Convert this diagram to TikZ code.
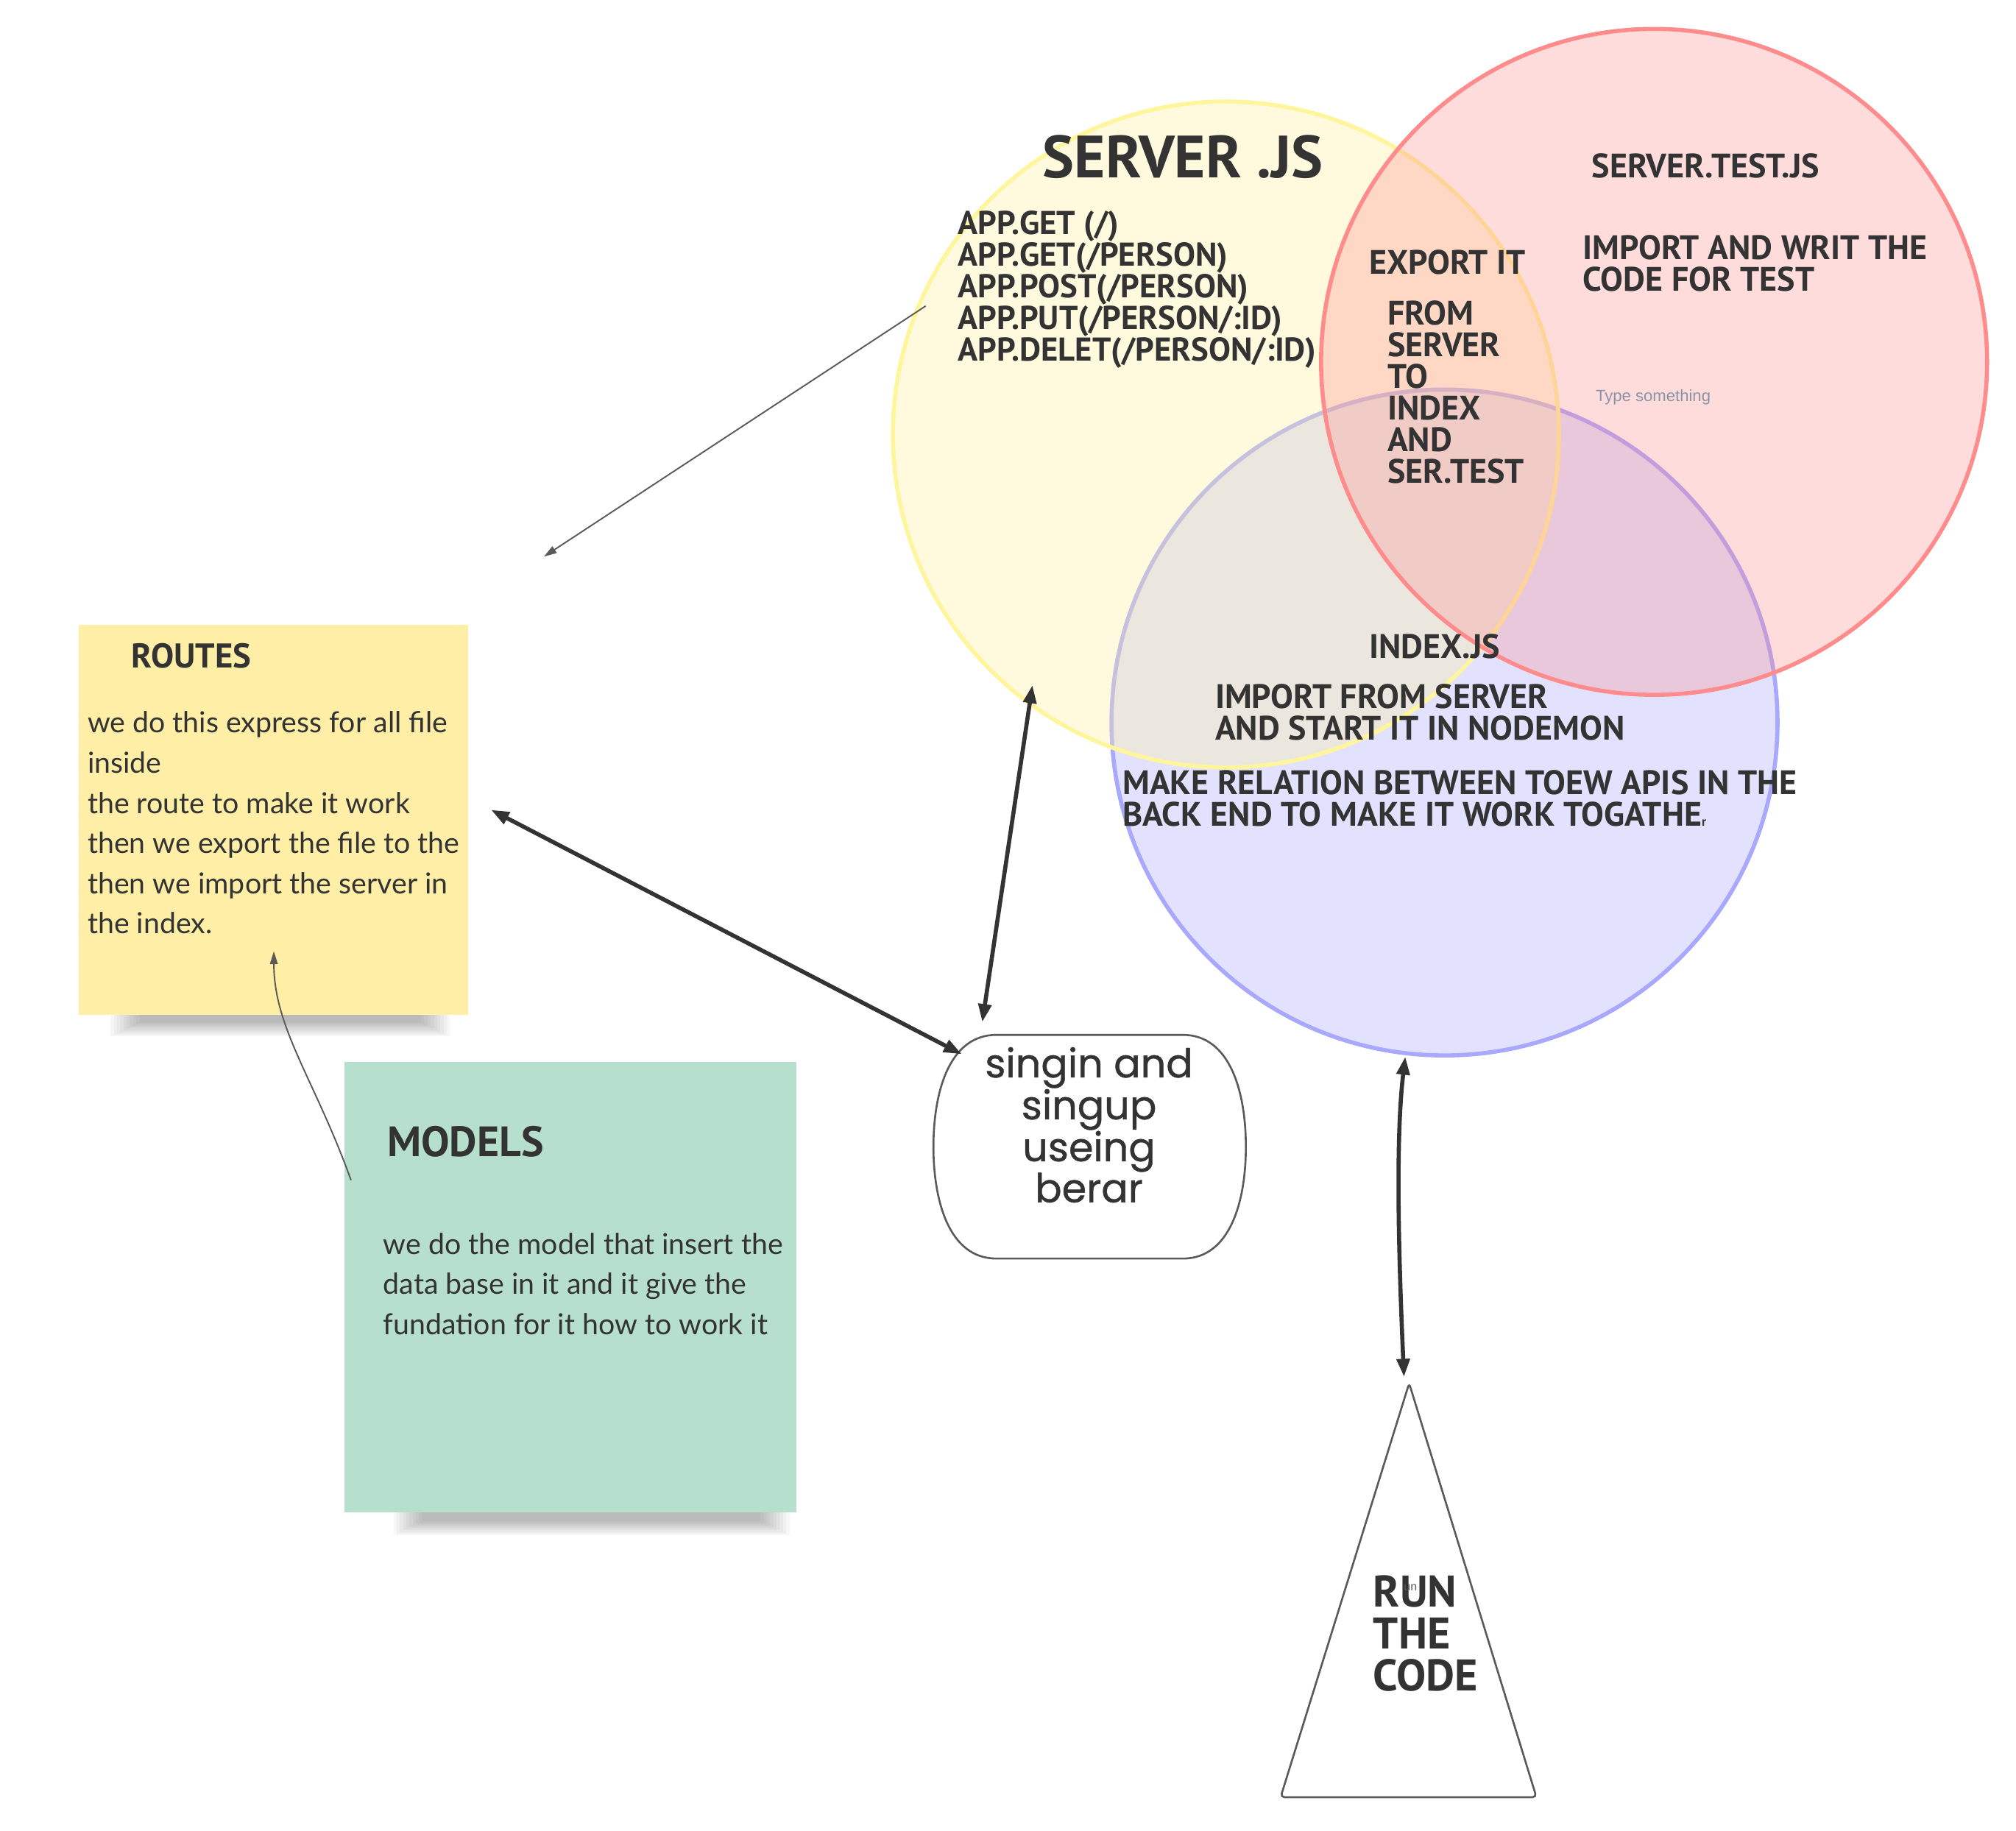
\documentclass[tikz,border=0pt]{standalone}
\usepackage{fontspec}
\setmainfont{Lato}
\newfontfamily\comic{PT Sans}
\newfontfamily\wideface{PT Sans}
\newfontfamily\hand{Lato}
\newfontfamily\geo[FakeBold=0.8]{Poppins}
\newfontfamily\uiface{Liberation Sans}
\usetikzlibrary{arrows.meta}
\newcommand\setfs[2]{\fontsize{#1}{#2}\selectfont}
\definecolor{ink}{HTML}{333333}
\definecolor{thin}{HTML}{5A5A5A}
\definecolor{ylwline}{HTML}{FFF59D}
\definecolor{ylwfill}{HTML}{FFF0A0}
\definecolor{redline}{HTML}{FF8C8C}
\definecolor{redfill}{HTML}{FF8C8C}
\definecolor{blueline}{HTML}{A8A8FF}
\definecolor{bluefill}{HTML}{A0A0FF}
\definecolor{routesfill}{HTML}{FFEEA6}
\definecolor{modelsfill}{HTML}{B7DFCE}
\definecolor{typegray}{HTML}{8A94A6}
\begin{document}
\begin{tikzpicture}[x=0.5mm,y=-0.5mm,
  venn/.style={circle, minimum size=259mm, inner sep=0, line width=1.6mm},
  caps/.style={font={\comic\bfseries\setfs{37.5}{35}}, text=ink, inner sep=0, anchor=west, align=left},
  handtxt/.style={font={\hand\setfs{32}{44.4}}, text=ink, inner sep=0, anchor=west, align=left},
  sticky/.style={rectangle, inner sep=0, anchor=north west},
  thick arrow/.style={draw=ink, line width=1.6mm, {Triangle[length=7mm,width=5mm]}-{Triangle[length=7mm,width=5mm]}},
  thin arrow/.style={draw=thin, line width=0.55mm, -{Triangle[length=5mm,width=3mm]}},
]
\useasboundingbox (0,0) rectangle (1568,1424);

% Venn circles
\node[venn, draw=blueline, fill=bluefill, fill opacity=0.3, draw opacity=1] (indexc) at (1123.5,562) {};
\node[venn, draw=ylwline, fill=ylwfill, fill opacity=0.35, draw opacity=1] (serverc) at (953.5,338) {};
\node[venn, draw=redline, fill=redfill, fill opacity=0.3, draw opacity=1] (testc) at (1286.5,281.5) {};

% Server.js texts
\node[font={\comic\bfseries\setfs{66}{66}}, text=ink, inner sep=0] (servertitle) at (920,122) {SERVER .JS};
\node[font={\comic\bfseries\setfs{36.5}{35}}, text=ink, inner sep=0, anchor=west, align=left] (applist) at (745,225) {APP.GET (/)\\APP.GET(/PERSON)\\APP.POST(/PERSON)\\APP.PUT(/PERSON/:ID)\\APP.DELET(/PERSON/:ID)};
\node[caps] (exportit) at (1065,204) {EXPORT IT};
\node[caps] (fromserver) at (1079,305) {FROM\\SERVER\\TO\\INDEX\\AND\\SER.TEST};

% server.test.js texts
\node[caps] (testtitle) at (1238,129) {SERVER.TEST.JS};
\node[caps] (testbody) at (1231,205) {IMPORT AND WRIT THE\\CODE FOR TEST};
\node[font={\uiface\setfs{18}{18}}, text=typegray, inner sep=0, anchor=west] (typesth) at (1241,309) {Type something};

% index.js texts
\node[caps] (indextitle) at (1065,503) {INDEX.JS};
\node[caps] (indexbody) at (945,554) {IMPORT FROM SERVER\\AND START IT IN NODEMON};
\node[caps] (relation) at (873,621) {MAKE RELATION BETWEEN TOEW APIS IN THE\\BACK END TO MAKE IT WORK TOGATHE{\setfs{14}{14}r}};

% Routes sticky
\foreach \i in {0,...,9}
  \fill[black, opacity=0.03] (86+\i*2.5,778+\i*0.8) rectangle (350-\i*2.5,806-\i*1.2);
\node[sticky, fill=routesfill, minimum width=151.5mm, minimum height=151.5mm] (routes) at (61,486) {};
\node[font={\wideface\bfseries\setfs{38}{38}}, text=ink, inner sep=0, anchor=west] (routestitle) at (102,510) {ROUTES};
\node[handtxt] (routesbody) at (68,640) {we do this express for all file\\inside\\the route to make it work\\then we export the file to the\\then we import the server in\\the index.};

% Models sticky
\foreach \i in {0,...,9}
  \fill[black, opacity=0.03] (306+\i*2.5,1166+\i*0.8) rectangle (614-\i*2.5,1194-\i*1.2);
\node[sticky, fill=modelsfill, minimum width=175.5mm, minimum height=175mm] (models) at (268,826) {};
\node[font={\wideface\bfseries\setfs{47}{47}}, text=ink, inner sep=0, anchor=west] (modelstitle) at (301,888) {MODELS};
\node[handtxt] (modelsbody) at (298,998.5) {we do the model that insert the\\data base in it and it give the\\fundation for it how to work it};

% Sign-in node
\draw[draw=thin, line width=0.75mm] (775,805) -- (920,805) .. controls (957,805) and (969,850) .. (969,892) .. controls (969,934) and (957,979) .. (920,979) -- (775,979) .. controls (738,979) and (726,934) .. (726,892) .. controls (726,850) and (738,805) .. (775,805) -- cycle;
\node[inner sep=0, minimum width=121.5mm, minimum height=87mm] (auth) at (847.5,892) {};
\node[font={\geo\setfs{44}{42.5}}, text=ink, align=center, inner sep=0] (authtext) at (847,875) {singin and\\singup\\useing\\berar};

% Run triangle
\coordinate (apex) at (1096,1076);
\coordinate (baser) at (1195,1398);
\coordinate (basel) at (996,1398);
\draw[draw=thin, line width=0.75mm, rounded corners=1.5mm] (apex) -- (baser) -- (basel) -- cycle;
\node[font={\wideface\bfseries\setfs{49}{46.5}}, text=ink, inner sep=0, anchor=west, align=left] (runcode) at (1068,1270.5) {RUN\\THE\\CODE};
\node[font={\uiface\setfs{13}{13}}, text=thin, inner sep=0] (runsmall) at (1097,1235) {un};

% connectors
\coordinate (append) at (720,238);
\coordinate (freeend) at (423,433);
\draw[thin arrow] (append) -- (freeend);

\coordinate (routesright) at (382,630);
\coordinate (authnw) at (748,820);
\draw[thick arrow] (routesright) -- (authnw);

\coordinate (serverbottom) at (803,533);
\coordinate (authtop) at (764,795);
\draw[thick arrow] (serverbottom) -- (authtop);

\coordinate (indexbottom) at (1093,822);
\coordinate (apextop) at (1092,1071);
\draw[thick arrow] (indexbottom) .. controls (1086,880) and (1087,960) .. (apextop);

\coordinate (modelsedge) at (273,918);
\coordinate (routesin) at (213,740);
\draw[thin arrow] (modelsedge) .. controls (245,840) and (213,800) .. (routesin);
\end{tikzpicture}
\end{document}
